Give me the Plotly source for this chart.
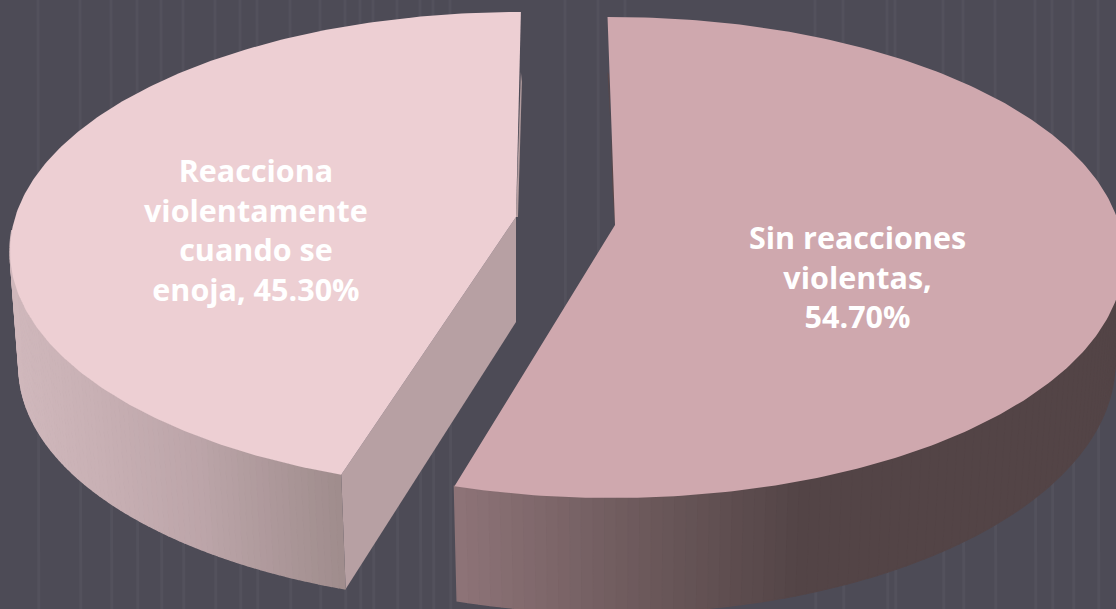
import numpy as np
import plotly.graph_objects as go

# ---- data ----
categories = ["Sin reacciones violentas", "Reacciona violentamente cuando se enoja"]
values = [54.70, 45.30]
label_lines = [["Sin reacciones", "violentas,"], ["Reacciona", "violentamente", "cuando se", "enoja,"]]

# ---- view parameters of the drawing (projection of the tilted pie) ----
W, H = 1116, 609
BG = "#4d4b56"
STRIPE = "#53515c"
stripe_x = [38, 80, 111, 137, 161, 183, 215, 240, 257, 290, 320, 345, 360, 373, 397, 420, 433, 450,
            565, 598, 625, 815, 843, 887, 895, 943, 963, 995, 1035, 1052, 1073, 1098]

right = dict(top=(612, 257.5, 512, 240.5), low=(612, 362, 503, 251), apex=(615, 225), skew=1.0,
             lowapex=None, face="#cfa8ae")
left = dict(top=(520, 251, 510, 239), low=(522, 367, 503, 237), apex=(516, 217), skew=3.6,
            lowapex=(516, 322), face="#edcfd3")


def rim(e, deg):
    cx, cy, rx, ry = e
    t = np.radians(deg)
    return cx + rx * np.sin(t), cy - ry * np.cos(t)


def mix(stops, x):
    xs = [s[0] for s in stops]
    r = np.interp(x, xs, [int(s[1][1:3], 16) for s in stops])
    g = np.interp(x, xs, [int(s[1][3:5], 16) for s in stops])
    b = np.interp(x, xs, [int(s[1][5:7], 16) for s in stops])
    return f"rgb({r:.0f},{g:.0f},{b:.0f})"


fig = go.Figure()


def poly(xs, ys, color, line=0.0):
    fig.add_trace(go.Scatter(
        x=list(xs), y=list(ys), mode="lines", fill="toself", fillcolor=color,
        line=dict(color=color, width=line), hoverinfo="skip", showlegend=False))


def wall(s, a0, a1, stops, n):
    edges = np.linspace(a0, a1, n + 1)
    for u, v in zip(edges[:-1], edges[1:]):
        ts = np.linspace(u, v, 4)
        ux, uy = rim(s["top"], ts)
        lx, ly = rim(s["low"], ts)
        xs = np.r_[ux, lx[::-1]]
        ys = np.r_[uy, ly[::-1]]
        poly(xs, ys, mix(stops, float(xs.mean())), 1.5)


split = 360 * values[0] / sum(values)
right_end = split + right["skew"]
left_start = split + left["skew"]

# right slice
wall(right, 80, right_end, [(455, "#8e7478"), (650, "#6b585a"), (800, "#534446"), (1116, "#534446")], 90)
rx_, ry_ = rim(right["top"], -0.5)
poly([rx_, rx_ + 1.5, right["apex"][0] - 2.5, right["apex"][0], right["apex"][0]],
     [ry_ + 55, ry_ + 58, right["apex"][1] - 35, right["apex"][1], right["apex"][1] - 20],
     "#5a4749")
ts = np.linspace(-0.5, right_end, 240)
x, y = rim(right["top"], ts)
poly(np.r_[x, right["apex"][0]], np.r_[y, right["apex"][1]], right["face"])

# left slice
tipx, tipy = rim(left["top"], left_start)
lowx, lowy = rim(left["low"], left_start)
ax, ay = left["apex"]
lax, lay = left["lowapex"]
endx, endy = rim(left["top"], 360.1)
poly([endx, endx + 1, ax + 2, ax], [endy + 60, endy + 70, ay, ay], "#b39d9f")
poly([ax, tipx, lowx, lax], [ay, tipy, lowy, lay], "#b7a0a3")
wall(left, left_start, 275, [(15, "#d0b8bc"), (100, "#c8b0b4"), (200, "#bca5a9"), (345, "#9f8c8c")], 90)
ts = np.linspace(left_start, 360.1, 240)
x, y = rim(left["top"], ts)
poly(np.r_[x, ax], np.r_[y, ay], left["face"])

# labels
annos = []
for lines, v, (cx, cy) in zip(label_lines, values, [(857, 276), (256, 229)]):
    if len(lines) == 2:
        text = "<br>".join(lines + [f"{v:.2f}%"])
    else:
        text = "<br>".join(lines[:-1] + [f"{lines[-1]} {v:.2f}%"])
    annos.append(dict(x=cx, y=cy, xref="x", yref="y", text=text, showarrow=False,
                      align="center", xanchor="center", yanchor="middle",
                      font=dict(family="Open Sans, sans-serif", size=30.5, color="white", weight=700)))

shapes = [dict(type="line", x0=s, x1=s + 0.8, y0=0, y1=H, xref="x", yref="y", layer="below",
               line=dict(color=STRIPE, width=3)) for s in stripe_x]

fig.update_layout(
    width=W, height=H, autosize=False,
    margin=dict(l=0, r=0, t=0, b=0),
    paper_bgcolor=BG, plot_bgcolor=BG,
    xaxis=dict(range=[0, W], visible=False, fixedrange=True),
    yaxis=dict(range=[H, 0], visible=False, fixedrange=True),
    annotations=annos, shapes=shapes,
)
fig.write_html("out.html", config=dict(displayModeBar=False),
               post_script="document.body.style.margin='0';document.body.style.overflow='hidden';document.body.style.background='%s';" % BG)
